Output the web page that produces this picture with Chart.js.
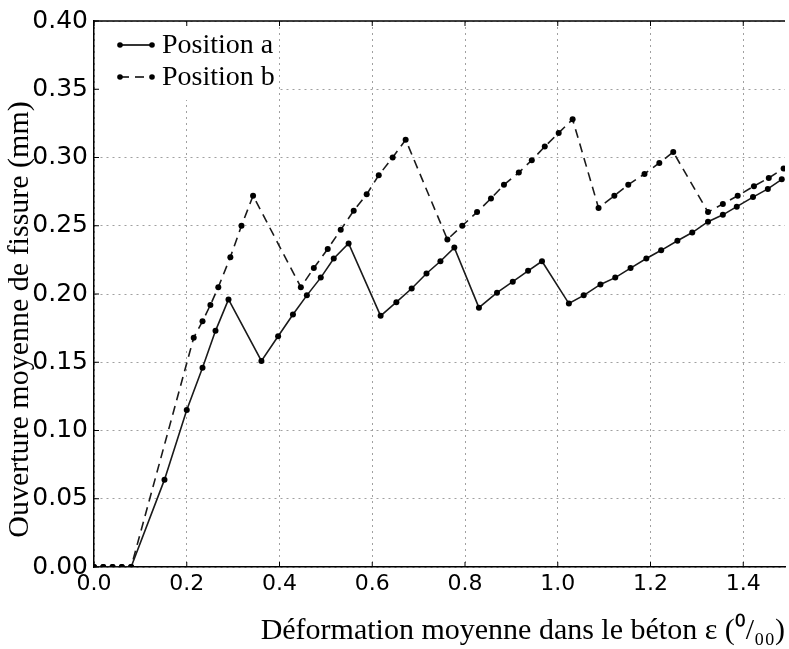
<!DOCTYPE html>
<html>
<head>
    <meta charset="utf-8">
    <title>Ouverture moyenne de fissure</title>
    <script src="https://cdn.jsdelivr.net/npm/chart.js"></script>
    <style>
        body { margin: 0; background: #fff; }
        .chart-container { position: relative; width: 789px; height: 649px; }
    </style>
</head>
<body>
    <div class="chart-container">
        <canvas id="chart"></canvas>
    </div>

    <script>
        // valeurs
        var posAX = [0, 0.02, 0.04, 0.06, 0.08, 0.152, 0.200, 0.234, 0.262, 0.290, 0.361, 0.397, 0.429, 0.459, 0.489,
            0.517, 0.549, 0.618, 0.652, 0.685, 0.717, 0.747, 0.777, 0.830, 0.869, 0.903, 0.936, 0.966, 1.024, 1.056,
            1.092, 1.124, 1.157, 1.191, 1.223, 1.258, 1.290, 1.324, 1.356, 1.386, 1.421, 1.453, 1.483];
        var posAY = [0, 0, 0, 0, 0, 0.064, 0.115, 0.146, 0.173, 0.196, 0.151, 0.169, 0.185, 0.199, 0.212,
            0.226, 0.237, 0.184, 0.194, 0.204, 0.215, 0.224, 0.234, 0.190, 0.201, 0.209, 0.217, 0.224, 0.193, 0.199,
            0.207, 0.212, 0.219, 0.226, 0.232, 0.239, 0.245, 0.253, 0.258, 0.264, 0.271, 0.277, 0.284];

        var posBX = [0, 0.02, 0.04, 0.06, 0.08, 0.215, 0.234, 0.251, 0.268, 0.294, 0.318, 0.343, 0.446, 0.474, 0.504,
            0.532, 0.560, 0.588, 0.614, 0.644, 0.672, 0.762, 0.794, 0.826, 0.856, 0.884, 0.916, 0.944, 0.972, 1.002,
            1.032, 1.088, 1.122, 1.152, 1.187, 1.219, 1.249, 1.324, 1.356, 1.388, 1.423, 1.455, 1.487];
        var posBY = [0, 0, 0, 0, 0, 0.168, 0.180, 0.192, 0.205, 0.227, 0.250, 0.272, 0.205, 0.219, 0.233,
            0.247, 0.261, 0.273, 0.287, 0.300, 0.313, 0.240, 0.250, 0.260, 0.270, 0.280, 0.289, 0.298, 0.308, 0.318,
            0.328, 0.263, 0.272, 0.280, 0.288, 0.296, 0.304, 0.260, 0.266, 0.272, 0.279, 0.285, 0.292];

        var xTicks = [0.0, 0.2, 0.4, 0.6, 0.8, 1.0, 1.2, 1.4];
        var yTicks = [0.00, 0.05, 0.10, 0.15, 0.20, 0.25, 0.30, 0.35, 0.40];
        var seriesNames = ['Position a', 'Position b'];

        function toPoints(xs, ys) {
            return xs.map(function(x, i) { return { x: x, y: ys[i] }; });
        }

        // légende style matplotlib + cadre du haut + petites graduations internes
        var framePlugin = {
            id: 'frame',
            afterDraw: function(chart) {
                var ctx = chart.ctx;
                var a = chart.chartArea;
                var xs = chart.scales.x, ys = chart.scales.y;
                ctx.save();

                // fond blanc de la légende (cache la grille)
                ctx.fillStyle = '#fff';
                ctx.fillRect(a.left + 2, a.top + 3, 183, 76);

                ctx.strokeStyle = '#000';
                ctx.lineWidth = 1.5;
                ctx.beginPath();
                ctx.moveTo(a.left, a.top);
                ctx.lineTo(a.right, a.top);
                ctx.stroke();

                ctx.lineWidth = 1;
                ctx.beginPath();
                xTicks.forEach(function(v) {
                    var px = xs.getPixelForValue(v);
                    ctx.moveTo(px, a.bottom); ctx.lineTo(px, a.bottom - 5);
                    ctx.moveTo(px, a.top); ctx.lineTo(px, a.top + 5);
                });
                yTicks.forEach(function(v) {
                    var py = ys.getPixelForValue(v);
                    ctx.moveTo(a.left, py); ctx.lineTo(a.left + 5, py);
                });
                ctx.stroke();

                // légende
                ctx.font = '28px "Liberation Serif"';
                ctx.textBaseline = 'middle';
                ctx.fillStyle = '#000';
                chart.data.datasets.forEach(function(ds, i) {
                    var y = 45 + i * 32;
                    var x0 = 120, x1 = 152;
                    ctx.strokeStyle = '#000';
                    ctx.lineWidth = ds.borderWidth;
                    ctx.setLineDash(ds.borderDash || []);
                    ctx.beginPath();
                    ctx.moveTo(x0, y); ctx.lineTo(x1, y);
                    ctx.stroke();
                    ctx.setLineDash([]);
                    [x0, x1].forEach(function(px) {
                        ctx.beginPath();
                        ctx.arc(px, y, 2.8, 0, Math.PI * 2);
                        ctx.fill();
                    });
                    ctx.fillText(ds.label, 162, y + 1);
                });
                ctx.restore();
            }
        };

        var gridStyle = { color: '#a0a0a0', lineWidth: 1, drawTicks: false };

        var ctx = document.getElementById('chart').getContext('2d');
        var chart = new Chart(ctx, {
            type: 'line',
            data: {
                datasets: [
                    {
                        label: seriesNames[0],
                        data: toPoints(posAX, posAY),
                        borderColor: '#1a1a1a',
                        backgroundColor: '#000',
                        borderWidth: 1.6,
                        pointRadius: 3,
                        pointBorderWidth: 0,
                        fill: false,
                        tension: 0
                    },
                    {
                        label: seriesNames[1],
                        data: toPoints(posBX, posBY),
                        borderColor: '#1a1a1a',
                        backgroundColor: '#000',
                        borderWidth: 1.6,
                        borderDash: [9, 6],
                        pointRadius: 3,
                        pointBorderWidth: 0,
                        fill: false,
                        tension: 0
                    }
                ]
            },
            options: {
                responsive: true,
                maintainAspectRatio: false,
                animation: false,
                layout: { padding: { top: 19, right: 0, bottom: 0, left: 0 } },
                plugins: {
                    legend: { display: false },
                    tooltip: { enabled: false }
                },
                scales: {
                    x: {
                        type: 'linear',
                        min: 0,
                        max: 1.49,
                        afterBuildTicks: function(scale) {
                            scale.ticks = xTicks.map(function(v) { return { value: v }; });
                        },
                        afterFit: function(scale) { scale.height = 82; },
                        ticks: {
                            color: '#000',
                            padding: 4,
                            font: { family: 'DejaVu Sans', size: 22 },
                            callback: function(v) { return v.toFixed(1); }
                        },
                        grid: gridStyle,
                        border: { color: '#000', width: 1.5, dash: [2, 4] },
                        title: {
                            display: true,
                            align: 'end',
                            text: 'Déformation moyenne dans le béton ε (⁰/₀₀)',
                            color: '#000',
                            font: { family: 'Liberation Serif', size: 30 },
                            padding: { top: 0, bottom: 0 }
                        }
                    },
                    y: {
                        min: 0,
                        max: 0.40,
                        afterBuildTicks: function(scale) {
                            scale.ticks = yTicks.map(function(v) { return { value: v }; });
                        },
                        afterFit: function(scale) { scale.width = 94; },
                        ticks: {
                            color: '#000',
                            padding: 6,
                            font: { family: 'DejaVu Sans', size: 25 },
                            callback: function(v) { return v.toFixed(2); }
                        },
                        grid: gridStyle,
                        border: { color: '#000', width: 1.5, dash: [2, 4] },
                        title: {
                            display: true,
                            text: 'Ouverture moyenne de fissure (mm)\u2002\u2002\u2002\u2009',
                            color: '#000',
                            font: { family: 'Liberation Serif', size: 30 },
                            padding: { top: 2, bottom: 0 }
                        }
                    }
                }
            },
            plugins: [framePlugin]
        });
    </script>
</body>
</html>
